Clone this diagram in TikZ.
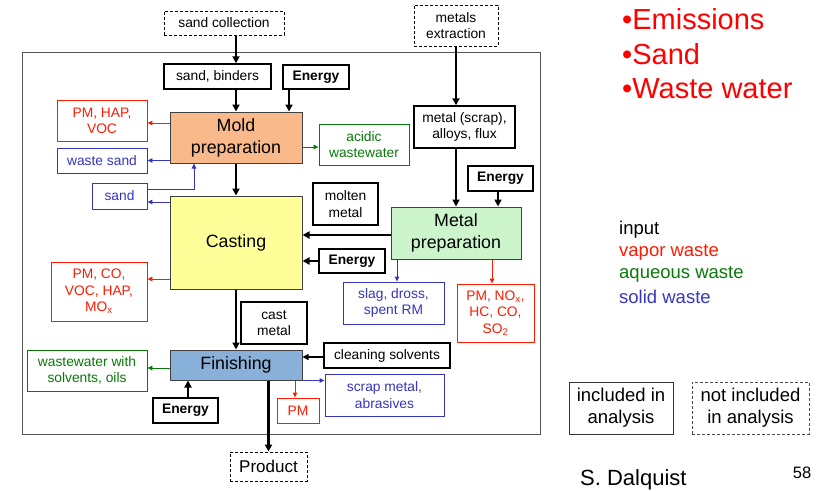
\documentclass[tikz,border=0pt]{standalone}
\usepackage{fontspec}
\setmainfont{Liberation Sans}
\usetikzlibrary{arrows.meta}
\definecolor{vred}{HTML}{FF1A00}
\definecolor{agreen}{HTML}{087A08}
\definecolor{sblue}{HTML}{3535C0}
\definecolor{moldfill}{HTML}{F9B98A}
\definecolor{castfill}{HTML}{FFFF99}
\definecolor{metalfill}{HTML}{CCF5CC}
\definecolor{finfill}{HTML}{88B0D8}
\definecolor{framegray}{HTML}{555555}
\begin{document}
\begin{tikzpicture}[x=1pt,y=-1pt,
  every node/.style={inner sep=0pt,align=center,font=\fontsize{13.8}{16.3}\selectfont},
  inbox/.style={draw=black,line width=1.4pt},
  outbox/.style={draw=black,densely dashed,line width=0.9pt},
  vbox/.style={draw=vred,line width=0.9pt,text=vred},
  abox/.style={draw=agreen,line width=0.9pt,text=agreen},
  sbox/.style={draw=sblue,line width=0.9pt,text=sblue},
  proc/.style={draw=black!75,line width=1pt,font=\fontsize{17.8}{22}\selectfont},
  flow/.style={line width=2.4pt,-{Triangle[length=7pt,width=7pt]}},
  thinflow/.style={line width=1.2pt,-{Triangle[length=6pt,width=6pt]}},
  vflow/.style={vred,line width=0.9pt,-{Triangle[length=5pt,width=4.5pt]}},
  aflow/.style={agreen,line width=0.9pt,-{Triangle[length=5pt,width=4.5pt]}},
  sflow/.style={sblue,line width=0.9pt,-{Triangle[length=5pt,width=4.5pt]}},
  legend/.style={anchor=west,font=\fontsize{18.5}{22}\selectfont}
]
\useasboundingbox (0,0) rectangle (819,490);

% system boundary
\draw[framegray,line width=1pt] (22,52) rectangle (540,434);

% sources outside the boundary
\node[outbox,minimum width=120pt,minimum height=24pt] (sandcoll) at (224,23) {sand collection};
\node[outbox,minimum width=84pt,minimum height=41pt] (metext) at (456,25.5) {metals\\extraction};

% inputs
\node[inbox,minimum width=107pt,minimum height=25pt] (sandbind) at (217.5,76.5) {sand, binders};
\node[inbox,minimum width=66pt,minimum height=24pt,font=\fontsize{13.8}{16.3}\selectfont\bfseries] (energy1) at (316,77) {Energy};
\node[inbox,minimum width=101pt,minimum height=42pt] (scrap) at (464.5,127) {metal (scrap),\\alloys, flux};
\node[inbox,minimum width=65pt,minimum height=25pt,font=\fontsize{13.8}{16.3}\selectfont\bfseries] (energy2) at (500.5,178.5) {Energy};
\node[inbox,minimum width=65pt,minimum height=42pt] (molten) at (345.5,204) {molten\\metal};
\node[inbox,minimum width=66pt,minimum height=24pt,font=\fontsize{13.8}{16.3}\selectfont\bfseries] (energy3) at (352,261) {Energy};
\node[inbox,minimum width=66pt,minimum height=42pt] (castmetal) at (274,323) {cast\\metal};
\node[inbox,minimum width=126pt,minimum height=25pt] (cleaning) at (387,355.5) {cleaning solvents};
\node[inbox,minimum width=65pt,minimum height=25pt,font=\fontsize{13.8}{16.3}\selectfont\bfseries] (energy4) at (185.5,410.5) {Energy};

% processes
\node[proc,fill=moldfill,minimum width=132pt,minimum height=51pt] (mold) at (236,137.5) {Mold\\preparation};
\node[proc,fill=castfill,minimum width=132pt,minimum height=93pt] (casting) at (236,242.5) {Casting};
\node[proc,fill=metalfill,minimum width=130pt,minimum height=52pt] (metalprep) at (456,233) {Metal\\preparation};
\node[proc,fill=finfill,minimum width=132pt,minimum height=30pt] (finishing) at (236,365) {Finishing};

% wastes
\node[vbox,minimum width=90pt,minimum height=41pt] (pmhap) at (102,120.5) {PM, HAP,\\VOC};
\node[sbox,minimum width=90pt,minimum height=25pt] (wastesand) at (102,160.5) {waste sand};
\node[sbox,minimum width=55pt,minimum height=26pt] (sand) at (119.5,196) {sand};
\node[abox,minimum width=90pt,minimum height=41pt] (acidic) at (364,144.5) {acidic\\wastewater};
\node[vbox,minimum width=96pt,minimum height=59pt] (pmco) at (99,291.5) {PM, CO,\\VOC, HAP,\\MO\textsubscript{x}};
\node[sbox,minimum width=101pt,minimum height=42pt] (slag) at (393.5,303) {slag, dross,\\spent RM};
\node[vbox,minimum width=77pt,minimum height=58pt] (pmnox) at (495.5,313) {PM, NO\textsubscript{x},\\HC, CO,\\SO\textsubscript{2}};
\node[abox,minimum width=120pt,minimum height=41pt] (wwsolv) at (87,370.5) {wastewater with\\solvents, oils};
\node[vbox,minimum width=42pt,minimum height=25pt] (pmsmall) at (298,410.5) {PM};
\node[sbox,minimum width=119pt,minimum height=42pt] (scrapmetal) at (384.5,395) {scrap metal,\\abrasives};

% product
\node[outbox,minimum width=77pt,minimum height=29pt,font=\fontsize{17}{20}\selectfont] (product) at (268.5,466.5) {Product};

% main material flow
\draw[flow] (sandcoll.south -| mold.north) -- (sandbind.north -| mold.north);
\draw[flow] (sandbind.south -| mold.north) -- (mold.north);
\draw[flow] ([xshift=-27pt]energy1.south) -- ([xshift=-27pt]energy1.south |- mold.north);
\draw[flow] (mold.south) -- (casting.north);
\draw[flow] (metext.south) -- (metext.south |- scrap.north);
\draw[flow] (scrap.south -| metalprep.north) -- (metalprep.north);
\draw[flow] ([xshift=-2.5pt]energy2.south) -- ([xshift=-2.5pt]energy2.south |- metalprep.north);
\draw[flow] ([yshift=-2pt]metalprep.west) -- ([yshift=-2pt]metalprep.west -| casting.east);
\draw[flow] (energy3.west) -- (energy3.west -| casting.east);
\draw[flow] (casting.south) -- (finishing.north);
\draw[flow] ([xshift=2.5pt]energy4.north) -- ([xshift=2.5pt]energy4.north |- finishing.south);
\draw[flow] (finishing.south -| product.north) -- (product.north);
\draw[thinflow] ([yshift=-1.5pt]cleaning.west) -- ([yshift=-1.5pt]cleaning.west -| finishing.east);

% waste flows
\draw[vflow] ([yshift=-2.5pt]mold.west |- pmhap.east) -- ([yshift=-2.5pt]pmhap.east);
\draw[sflow] (mold.west |- wastesand.east) -- (wastesand.east);
\coordinate (sandout) at ([yshift=7pt]sand.east);
\coordinate (moldin) at ([xshift=-42pt]mold.south);
\draw[sflow] (sandout) -| (moldin);
\coordinate (sandin) at ([yshift=-6pt]sand.east);
\draw[sflow] (casting.west |- sandin) -- (sandin);
\draw[aflow] ([yshift=-2.5pt]mold.east |- acidic.west) -- ([yshift=-2.5pt]acidic.west);
\coordinate (pmcoin) at ([yshift=12.5pt]pmco.east);
\draw[vflow] (casting.west |- pmcoin) -- (pmcoin);
\draw[sflow] ([xshift=3.5pt]slag.north |- metalprep.south) -- ([xshift=3.5pt]slag.north);
\draw[vflow] ([xshift=-3.5pt]pmnox.north |- metalprep.south) -- ([xshift=-3.5pt]pmnox.north);
\draw[aflow] ([yshift=2.5pt]finishing.west |- wwsolv.east) -- ([yshift=2.5pt]wwsolv.east);
\draw[vflow] ([xshift=-3pt]pmsmall.north |- finishing.south) -- ([xshift=-3pt]pmsmall.north);
\draw[sflow] (finishing.south east) -- (finishing.south east -| scrapmetal.west);

% headline bullets
\node[anchor=west,align=left,text=red,font=\fontsize{29}{34.5}\selectfont] (bullets) at (622,54) {•Emissions\\•Sand\\•Waste water};

% colour legend
\node[legend] (lgin) at (619,230) {input};
\node[legend,text=vred] (lgvap) at (619,252) {vapor waste};
\node[legend,text=agreen] (lgaq) at (619,274) {aqueous waste};
\node[legend,text=sblue] (lgsol) at (619,297) {solid waste};

% box legend
\node[draw=black!80,line width=1pt,minimum width=104pt,minimum height=52pt,font=\fontsize{18.5}{22}\selectfont] (incl) at (621,408) {included in\\analysis};
\node[draw=black!70,densely dashed,line width=0.9pt,minimum width=117pt,minimum height=52pt,font=\fontsize{18.5}{22}\selectfont] (notincl) at (750.5,408) {not included\\in analysis};

% footer
\node[anchor=west,font=\fontsize{22}{26}\selectfont] (author) at (580,480) {S. Dalquist};
\node[font=\fontsize{16.5}{20}\selectfont] (page) at (802,473) {58};
\end{tikzpicture}
\end{document}
